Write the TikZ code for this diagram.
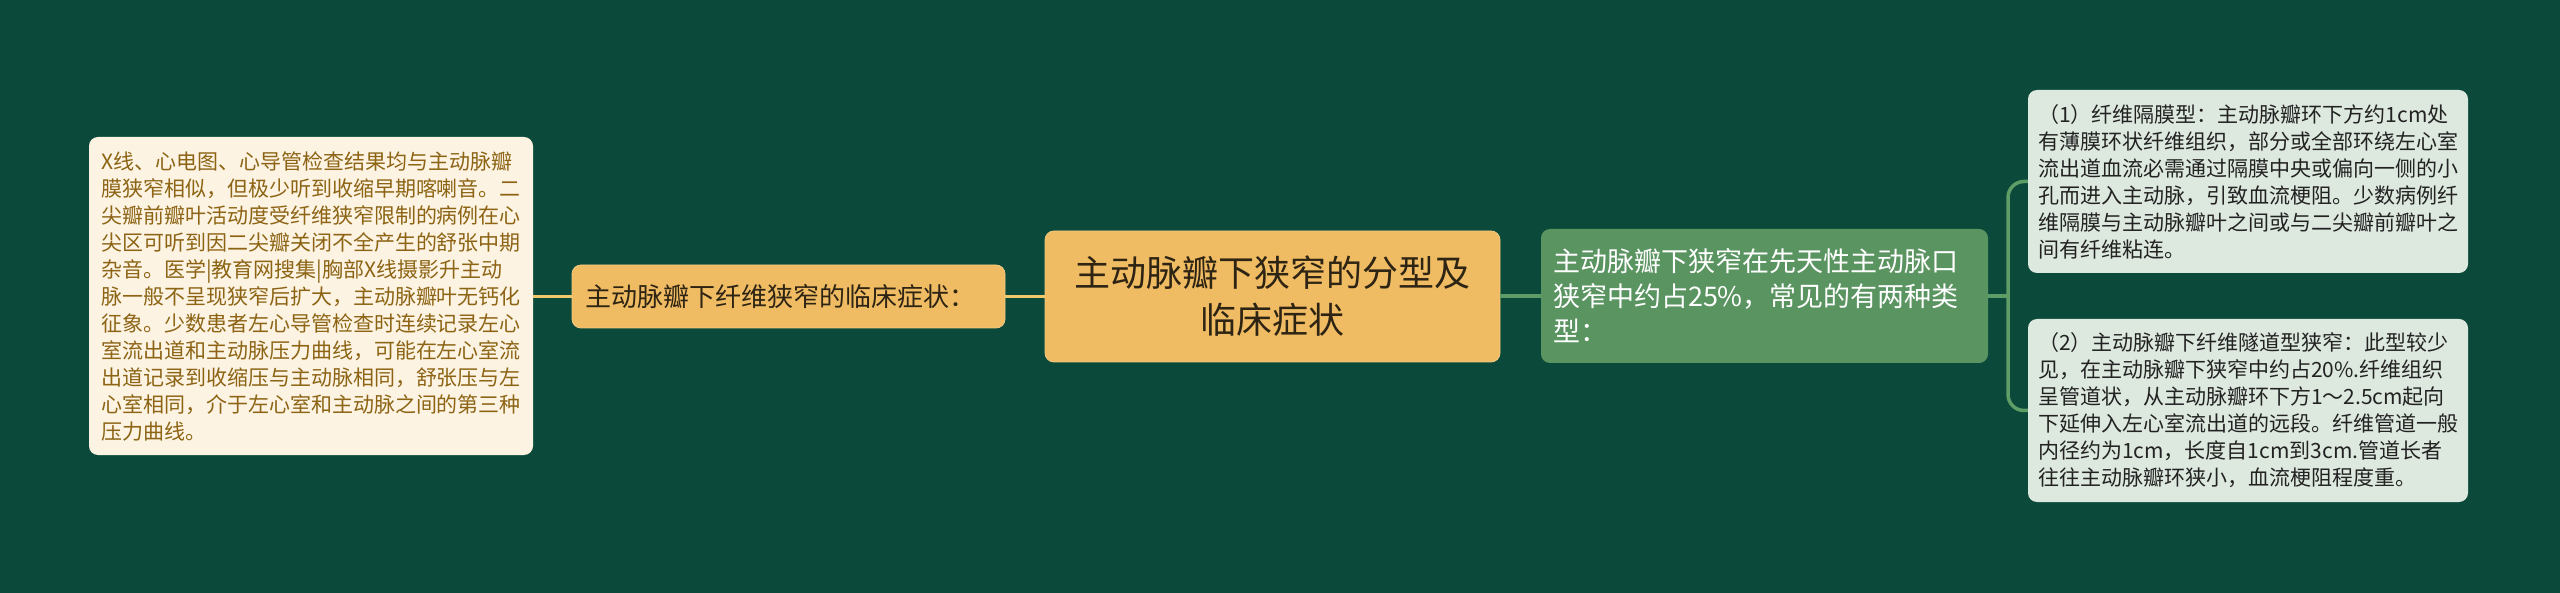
\documentclass[tikz,border=0pt]{standalone}
\usepackage{fontspec}
\setmainfont{Noto Sans CJK SC}
\definecolor{bgc}{HTML}{0B4A3A}
\definecolor{gold}{HTML}{F0BC63}
\definecolor{goldline}{HTML}{F0C86C}
\definecolor{cream}{HTML}{FDF3E3}
\definecolor{brown}{HTML}{8C6414}
\definecolor{leaf}{HTML}{5A9461}
\definecolor{leafline}{HTML}{5E9D66}
\definecolor{pale}{HTML}{DDE8DF}
\definecolor{ink}{HTML}{222222}
\definecolor{darkink}{HTML}{2E2414}
\begin{document}
\begin{tikzpicture}[x=1pt,y=-1pt,
  box/.style={rectangle,rounded corners=9pt,inner ysep=0pt,align=left},
  goldbox/.style={box,fill=gold,draw=gold!80!white,line width=0.8pt,text=darkink},
  creambox/.style={box,fill=cream,text=brown},
  leafbox/.style={box,fill=leaf,text=white},
  palebox/.style={box,fill=pale,text=ink},
  small/.style={font={\fontsize{21}{27}\selectfont}},
  goldconn/.style={draw=goldline,line width=3pt},
  leafconn/.style={draw=leafline,line width=3.5pt,rounded corners=16pt}]
\fill[bgc] (0,0) rectangle (2560,593);
\useasboundingbox (0,0) rectangle (2560,593);

\node[creambox,small,inner xsep=12pt,text width=420pt,minimum height=318pt] (lft) at (311,296)
 {X线、心电图、心导管检查结果均与主动脉瓣\\
 膜狭窄相似，但极少听到收缩早期喀喇音。二\\
 尖瓣前瓣叶活动度受纤维狭窄限制的病例在心\\
 尖区可听到因二尖瓣关闭不全产生的舒张中期\\
 杂音。医学|教育网搜集|胸部X线摄影升主动\\
 脉一般不呈现狭窄后扩大，主动脉瓣叶无钙化\\
 征象。少数患者左心导管检查时连续记录左心\\
 室流出道和主动脉压力曲线，可能在左心室流\\
 出道记录到收缩压与主动脉相同，舒张压与左\\
 心室相同，介于左心室和主动脉之间的第三种\\
 压力曲线。};

\node[goldbox,font={\fontsize{26}{32}\selectfont},inner xsep=13pt,text width=407pt,minimum height=63pt] (mid) at (788.5,296.5)
 {主动脉瓣下纤维狭窄的临床症状：};

\node[goldbox,font={\fontsize{36}{47}\selectfont},align=center,inner xsep=12pt,text width=431pt,minimum height=131pt] (ctr) at (1272.5,296.5)
 {主动脉瓣下狭窄的分型及\\临床症状};

\node[leafbox,font={\fontsize{27}{35}\selectfont},inner xsep=12pt,text width=423pt,minimum height=134pt] (grn) at (1764.5,296)
 {主动脉瓣下狭窄在先天性主动脉口\\
 狭窄中约占25\%，常见的有两种类\\
 型：};

\node[palebox,small,inner xsep=10pt,text width=420pt,minimum height=183pt] (ra) at (2248,181.5)
 {（1）纤维隔膜型：主动脉瓣环下方约1cm处\\
 有薄膜环状纤维组织，部分或全部环绕左心室\\
 流出道血流必需通过隔膜中央或偏向一侧的小\\
 孔而进入主动脉，引致血流梗阻。少数病例纤\\
 维隔膜与主动脉瓣叶之间或与二尖瓣前瓣叶之\\
 间有纤维粘连。};

\node[palebox,small,inner xsep=10pt,text width=420pt,minimum height=183pt] (rb) at (2248,410.5)
 {（2）主动脉瓣下纤维隧道型狭窄：此型较少\\
 见，在主动脉瓣下狭窄中约占20\%.纤维组织\\
 呈管道状，从主动脉瓣环下方1～2.5cm起向\\
 下延伸入左心室流出道的远段。纤维管道一般\\
 内径约为1cm，长度自1cm到3cm.管道长者\\
 往往主动脉瓣环狭小，血流梗阻程度重。};

\coordinate (j) at (2008,296);

\draw[goldconn] (lft.east |- mid.west) -- (mid.west);
\draw[goldconn] (mid.east) -- (ctr.west |- mid.east);
\draw[leafconn] (ctr.east |- grn.west) -- (grn.west);
\draw[leafconn] (grn.east) -- (j);
\draw[leafconn] (ra.west) -| (j) |- (rb.west);
\end{tikzpicture}
\end{document}
